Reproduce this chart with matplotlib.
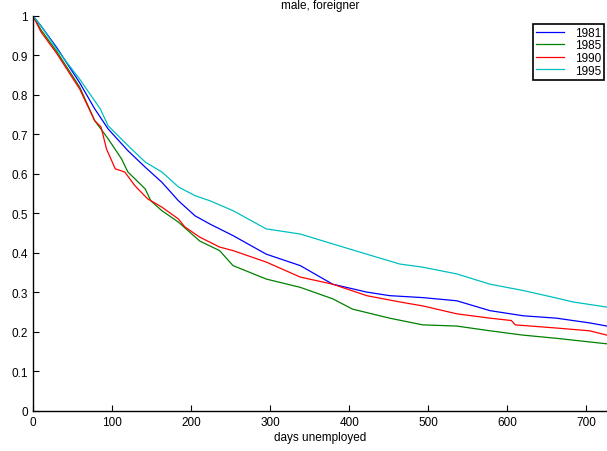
import matplotlib
matplotlib.use("Agg")
import matplotlib.pyplot as plt

plt.rcParams['font.family'] = ['Liberation Sans', 'DejaVu Sans']

# Kaplan-Meier style survival in unemployment, male foreigners, by cohort year
days_1981 = [0, 10, 30, 59, 78, 95, 120, 142, 163, 184, 205, 224, 253, 295, 338, 379, 422,
             451, 493, 536, 578, 620, 662, 704, 726]
surv_1981 = [1.0, 0.975, 0.92, 0.831, 0.765, 0.714, 0.659, 0.617, 0.579, 0.532, 0.494, 0.473,
             0.444, 0.397, 0.368, 0.321, 0.301, 0.292, 0.287, 0.279, 0.254, 0.241, 0.235,
             0.223, 0.215]

days_1985 = [0, 10, 30, 59, 78, 95, 112, 120, 142, 149, 163, 184, 211, 236, 253, 295, 338, 379,
             404, 451, 493, 536, 578, 620, 662, 726]
surv_1985 = [1.0, 0.965, 0.91, 0.82, 0.735, 0.689, 0.638, 0.605, 0.562, 0.532, 0.507, 0.478,
             0.43, 0.406, 0.368, 0.334, 0.313, 0.284, 0.258, 0.235, 0.218, 0.215, 0.203, 0.192,
             0.184, 0.170]

days_1990 = [0, 10, 30, 59, 78, 86, 93, 104, 116, 129, 145, 163, 184, 192, 211, 236, 253, 295,
             338, 379, 422, 464, 493, 536, 578, 605, 610, 662, 704, 726]
surv_1990 = [1.0, 0.96, 0.905, 0.815, 0.735, 0.719, 0.663, 0.613, 0.605, 0.570, 0.537, 0.516,
             0.486, 0.466, 0.44, 0.415, 0.406, 0.377, 0.339, 0.321, 0.292, 0.276, 0.266, 0.246,
             0.235, 0.229, 0.218, 0.210, 0.203, 0.192]

days_1995 = [0, 10, 30, 59, 85, 95, 120, 142, 163, 184, 205, 224, 253, 295, 338, 379, 422, 464,
             493, 536, 578, 620, 662, 683, 726]
surv_1995 = [1.0, 0.975, 0.916, 0.84, 0.765, 0.722, 0.672, 0.630, 0.605, 0.567, 0.545, 0.532,
             0.507, 0.461, 0.448, 0.423, 0.397, 0.372, 0.364, 0.347, 0.321, 0.305, 0.286, 0.276,
             0.263]

x_ticks = [0, 100, 200, 300, 400, 500, 600, 700]
y_ticks = [0, 0.1, 0.2, 0.3, 0.4, 0.5, 0.6, 0.7, 0.8, 0.9, 1]
y_labels = ['0', '0.1', '0.2', '0.3', '0.4', '0.5', '0.6', '0.7', '0.8', '0.9', '1']

fig = plt.figure(figsize=(6.07, 4.52), dpi=100)
ax = fig.add_axes([0.0544, 0.0885, 0.9456, 0.874])

ax.plot(days_1981, surv_1981, color=(0, 0, 1), lw=0.9, label='1981')
ax.plot(days_1985, surv_1985, color=(0, 0.5, 0), lw=0.9, label='1985')
ax.plot(days_1990, surv_1990, color=(1, 0, 0), lw=0.9, label='1990')
ax.plot(days_1995, surv_1995, color=(0, 0.75, 0.75), lw=0.9, label='1995')

ax.set_xlim(0, 726)
ax.set_ylim(0, 1)
ax.set_xticks(x_ticks)
ax.set_yticks(y_ticks)
ax.set_yticklabels(y_labels)
ax.tick_params(direction='in', length=4, width=0.8, labelsize=8.5, colors='black')
for side in ['top', 'right']:
    ax.spines[side].set_visible(False)
for side in ['left', 'bottom']:
    ax.spines[side].set_linewidth(1.0)

ax.set_xlabel('days unemployed', fontsize=8.5, labelpad=2)
ax.set_title('male, foreigner', fontsize=8.5, pad=6)

leg = ax.legend(loc='upper right', bbox_to_anchor=(0.995, 0.98), fontsize=8.5,
                fancybox=False, framealpha=1, edgecolor='black', handlelength=2.4,
                handletextpad=0.9, borderpad=0.25, labelspacing=0.05, borderaxespad=0)
leg.get_frame().set_linewidth(1.2)

fig.savefig('out.png', dpi=100)
